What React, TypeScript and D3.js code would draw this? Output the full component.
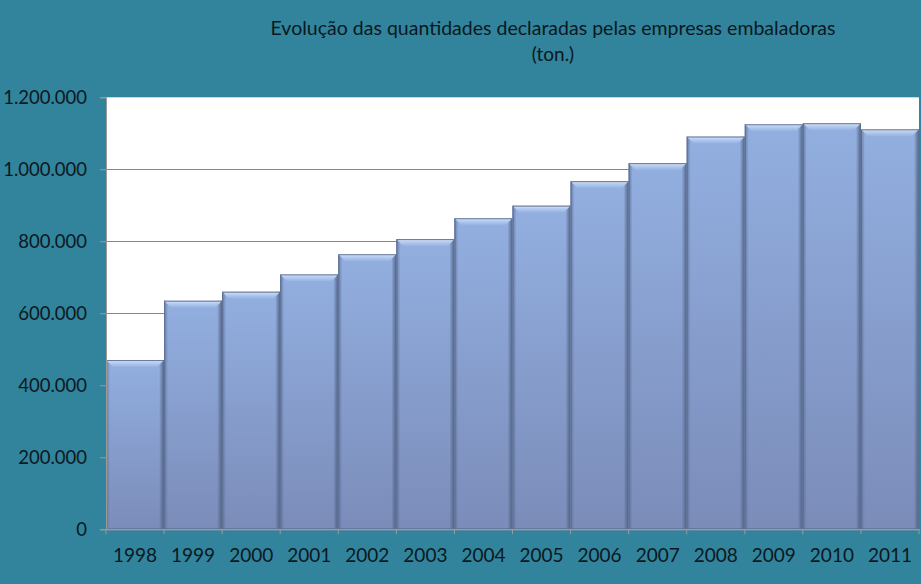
import React, { useEffect, useRef } from 'react';
import * as d3 from 'd3';

const years = ['1998', '1999', '2000', '2001', '2002', '2003', '2004', '2005', '2006', '2007', '2008', '2009', '2010', '2011'];
const quantities = [470000, 635000, 660000, 708000, 764000, 806000, 864000, 899000, 967000, 1017000, 1091000, 1125000, 1128000, 1111000];
const yTicks = [0, 200000, 400000, 600000, 800000, 1000000, 1200000];
const titleLines = ['Evolução das quantidades declaradas pelas empresas embaladoras', '(ton.)'];

const W = 921;
const H = 584;

const App = () => {
  const ref = useRef<SVGSVGElement>(null);

  useEffect(() => {
    const svg = d3.select(ref.current);
    svg.selectAll('*').remove();

    const margin = { top: 97.3, right: 2, bottom: 54.7, left: 106 };
    const font = 'Lato, "Open Sans", sans-serif';
    const textColor = '#0b1822';

    svg.append('rect').attr('width', W).attr('height', H).attr('fill', '#31849b');

    const defs = svg.append('defs');
    const body = defs.append('linearGradient').attr('id', 'barBody').attr('x1', 0).attr('y1', 0).attr('x2', 0).attr('y2', 1);
    body.append('stop').attr('offset', '0%').attr('stop-color', '#92afe0');
    body.append('stop').attr('offset', '100%').attr('stop-color', '#7b8cb9');

    const topBev = defs.append('linearGradient').attr('id', 'barTop').attr('x1', 0).attr('y1', 0).attr('x2', 0).attr('y2', 1);
    topBev.append('stop').attr('offset', '0%').attr('stop-color', '#f2f7ff');
    topBev.append('stop').attr('offset', '30%').attr('stop-color', '#bcd1f3');
    topBev.append('stop').attr('offset', '100%').attr('stop-color', '#94b1e0');

    const leftBev = defs.append('linearGradient').attr('id', 'barLeft').attr('x1', 0).attr('y1', 0).attr('x2', 1).attr('y2', 0);
    leftBev.append('stop').attr('offset', '0%').attr('stop-color', '#5c6f94').attr('stop-opacity', 0.8);
    leftBev.append('stop').attr('offset', '100%').attr('stop-color', '#5c6f94').attr('stop-opacity', 0);

    const rightBev = defs.append('linearGradient').attr('id', 'barRight').attr('x1', 1).attr('y1', 0).attr('x2', 0).attr('y2', 0);
    rightBev.append('stop').attr('offset', '0%').attr('stop-color', '#4a5b7c').attr('stop-opacity', 0.9);
    rightBev.append('stop').attr('offset', '100%').attr('stop-color', '#4a5b7c').attr('stop-opacity', 0);

    const x = d3.scaleBand()
      .domain(years)
      .range([margin.left, W - margin.right])
      .padding(0);

    const y = d3.scaleLinear()
      .domain([0, 1200000])
      .range([H - margin.bottom, margin.top]);

    // plot area
    svg.append('rect')
      .attr('x', margin.left)
      .attr('y', margin.top)
      .attr('width', W - margin.right - margin.left)
      .attr('height', y(0) - margin.top)
      .attr('fill', '#ffffff');

    // gridlines
    svg.append('g')
      .selectAll('line')
      .data(yTicks.filter(d => d > 0 && d < 1200000))
      .enter().append('line')
      .attr('x1', margin.left)
      .attr('x2', W - margin.right)
      .attr('y1', d => Math.round(y(d)) + 0.5)
      .attr('y2', d => Math.round(y(d)) + 0.5)
      .attr('stroke', '#868686')
      .attr('stroke-width', 1);

    const fmt = d3.formatLocale({ decimal: ',', thousands: '.', grouping: [3], currency: ['', ''] }).format(',.0f');

    // bars
    const bars = svg.append('g').selectAll('g.bar')
      .data(years.map((yr, i) => ({ yr, v: quantities[i] })))
      .enter().append('g').attr('class', 'bar');

    const bw = x.bandwidth();
    const bev = 7;

    bars.append('rect')
      .attr('x', d => x(d.yr)!)
      .attr('y', d => y(d.v))
      .attr('width', bw)
      .attr('height', d => y(0) - y(d.v))
      .attr('fill', 'url(#barBody)');

    bars.append('rect')
      .attr('x', d => x(d.yr)!)
      .attr('y', d => y(d.v))
      .attr('width', 4)
      .attr('height', d => y(0) - y(d.v))
      .attr('fill', 'url(#barLeft)');

    bars.append('rect')
      .attr('x', d => x(d.yr)! + bw - 5)
      .attr('y', d => y(d.v))
      .attr('width', 5)
      .attr('height', d => y(0) - y(d.v))
      .attr('fill', 'url(#barRight)');

    bars.append('path')
      .attr('d', d => {
        const x0 = x(d.yr)!;
        const y0 = y(d.v);
        return `M${x0},${y0}L${x0 + bw},${y0}L${x0 + bw - bev},${y0 + bev}L${x0 + bev},${y0 + bev}Z`;
      })
      .attr('fill', 'url(#barTop)');

    bars.append('rect')
      .attr('x', d => x(d.yr)! + 0.5)
      .attr('y', d => y(d.v) + 0.5)
      .attr('width', bw - 1)
      .attr('height', d => y(0) - y(d.v) - 1)
      .attr('fill', 'none')
      .attr('stroke', '#5d6f93')
      .attr('stroke-width', 1);

    // axes
    const yAxis = svg.append('g')
      .attr('transform', `translate(${margin.left},0)`)
      .call(d3.axisLeft(y).tickValues(yTicks).tickFormat(d => fmt(d as number)).tickSize(6).tickPadding(13));
    yAxis.select('.domain').attr('stroke', '#9a9a9a');
    yAxis.selectAll('.tick line').attr('stroke', '#9a9a9a');
    yAxis.selectAll('text')
      .attr('fill', textColor)
      .style('font-family', font)
      .style('font-size', '18.5px');

    const xAxis = svg.append('g')
      .attr('transform', `translate(0,${y(0)})`)
      .call(d3.axisBottom(x).tickSize(0).tickPadding(19));
    xAxis.select('.domain').attr('stroke', '#b89aa8');
    xAxis.selectAll('text')
      .attr('fill', textColor)
      .style('font-family', font)
      .style('font-size', '19px');

    svg.append('g').selectAll('line')
      .data(years.map(yr => x(yr)!).concat([W - margin.right]))
      .enter().append('line')
      .attr('x1', d => d)
      .attr('x2', d => d)
      .attr('y1', y(0))
      .attr('y2', y(0) + 5)
      .attr('stroke', '#9a9a9a');

    // title
    svg.append('g').selectAll('text')
      .data(titleLines)
      .enter().append('text')
      .attr('x', 553)
      .attr('y', (d, i) => 35 + i * 26)
      .attr('text-anchor', 'middle')
      .attr('fill', textColor)
      .attr('textLength', (d, i) => (i === 0 ? 565 : null))
      .attr('lengthAdjust', 'spacingAndGlyphs')
      .style('font-family', font)
      .style('font-size', '19px')
      .text(d => d);
  }, []);

  return <svg ref={ref} width={W} height={H} style={{ display: 'block', position: 'absolute', left: 0, top: 0 }} />;
};

export default App;
